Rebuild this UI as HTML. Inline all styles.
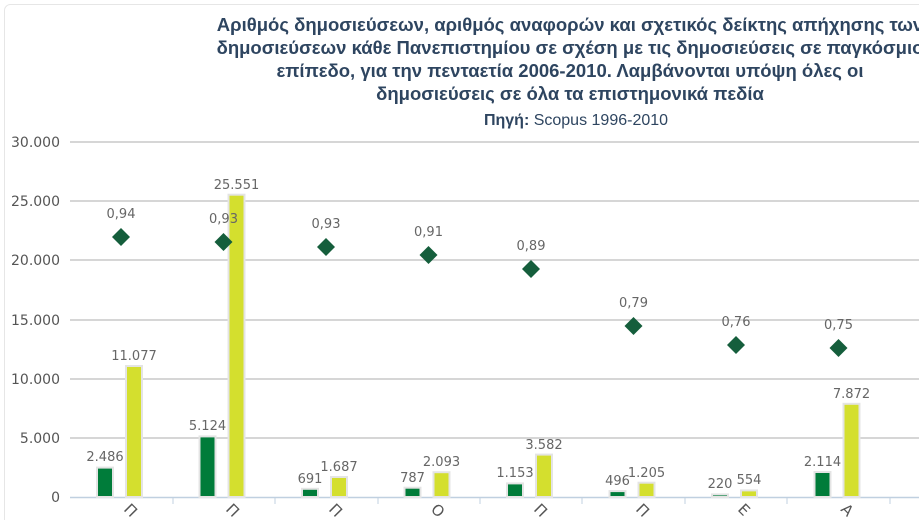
<!DOCTYPE html>
<html><head><meta charset="utf-8"><style>
body{margin:0;background:#fff;width:919px;height:520px;overflow:hidden;}
svg{display:block;}
.t{font-family:"Liberation Sans Narrow","Liberation Sans",sans-serif;font-weight:bold;font-size:18.5px;fill:#2e4560;}
.l{font-family:"DejaVu Sans","Liberation Sans",sans-serif;font-size:13px;fill:#666;}
.a{font-family:"DejaVu Sans","Liberation Sans",sans-serif;font-size:14px;fill:#555;}
</style></head><body>
<svg width="919" height="520" xmlns="http://www.w3.org/2000/svg">
<rect x="4.5" y="4.5" width="930" height="530" rx="6" fill="#fff" stroke="#e6e6e6"/>
<g text-anchor="middle">
<text class="t" x="570" y="31">Αριθμός δημοσιεύσεων, αριθμός αναφορών και σχετικός δείκτης απήχησης των</text>
<text class="t" x="570" y="54">δημοσιεύσεων κάθε Πανεπιστημίου σε σχέση με τις δημοσιεύσεις σε παγκόσμιο</text>
<text class="t" x="570" y="77">επίπεδο, για την πενταετία 2006-2010. Λαμβάνονται υπόψη όλες οι</text>
<text class="t" x="570" y="100">δημοσιεύσεις σε όλα τα επιστημονικά πεδία</text>
<text x="576" y="125" style="font-family:'Liberation Sans Narrow','Liberation Sans',sans-serif;font-size:16px;fill:#2e4560"><tspan font-weight="bold">Πηγή:</tspan> Scopus 1996-2010</text>
</g>
<g stroke="#c8c8c8" stroke-width="1.5">
<line x1="70" x2="919" y1="142" y2="142"/><line x1="70" x2="919" y1="201" y2="201"/>
<line x1="70" x2="919" y1="260" y2="260"/><line x1="70" x2="919" y1="320" y2="320"/>
<line x1="70" x2="919" y1="379" y2="379"/><line x1="70" x2="919" y1="438" y2="438"/>
</g>
<line x1="70" x2="919" y1="497.5" y2="497.5" stroke="#c0d0e0" stroke-width="1.5"/>
<g stroke="#c0d0e0"><line x1="173" x2="173" y1="497" y2="504"/><line x1="275" x2="275" y1="497" y2="504"/><line x1="378" x2="378" y1="497" y2="504"/><line x1="480" x2="480" y1="497" y2="504"/><line x1="582" x2="582" y1="497" y2="504"/><line x1="685" x2="685" y1="497" y2="504"/><line x1="787" x2="787" y1="497" y2="504"/><line x1="890" x2="890" y1="497" y2="504"/></g>
<g class="a" text-anchor="end">
<text x="60" y="147">30.000</text><text x="60" y="206">25.000</text><text x="60" y="265">20.000</text>
<text x="60" y="325">15.000</text><text x="60" y="384">10.000</text><text x="60" y="443">5.000</text><text x="60" y="502">0</text>
</g>
<g stroke="#e4e4e4" stroke-width="2">
<rect x="97" y="467.6" width="16" height="29.4" fill="#007c3a"/><rect x="126" y="366" width="16" height="131" fill="#d4df2e"/>
<rect x="199.5" y="436.4" width="16" height="60.6" fill="#007c3a"/><rect x="228.5" y="194.7" width="16" height="302.3" fill="#d4df2e"/>
<rect x="302" y="488.8" width="16" height="8.2" fill="#007c3a"/><rect x="331" y="477" width="16" height="20" fill="#d4df2e"/>
<rect x="404.5" y="487.7" width="16" height="9.3" fill="#007c3a"/><rect x="433.5" y="472.2" width="16" height="24.8" fill="#d4df2e"/>
<rect x="507" y="483.4" width="16" height="13.6" fill="#007c3a"/><rect x="536" y="454.6" width="16" height="42.4" fill="#d4df2e"/>
<rect x="609.5" y="491.1" width="16" height="5.9" fill="#007c3a"/><rect x="638.5" y="482.7" width="16" height="14.3" fill="#d4df2e"/>
<rect x="712" y="494.4" width="16" height="2.6" fill="#007c3a"/><rect x="741" y="490.4" width="16" height="6.6" fill="#d4df2e"/>
<rect x="814.5" y="472" width="16" height="25" fill="#007c3a"/><rect x="843.5" y="403.8" width="16" height="93.2" fill="#d4df2e"/>
</g>
<g class="l" text-anchor="middle">
<text x="105" y="461">2.486</text><text x="134" y="360">11.077</text>
<text x="207.5" y="430">5.124</text><text x="236.5" y="189">25.551</text>
<text x="310" y="483">691</text><text x="339" y="471">1.687</text>
<text x="412.5" y="482">787</text><text x="441.5" y="466">2.093</text>
<text x="515" y="477">1.153</text><text x="544" y="449">3.582</text>
<text x="617.5" y="485">496</text><text x="646.5" y="477">1.205</text>
<text x="720" y="488">220</text><text x="749" y="484">554</text>
<text x="822.5" y="466">2.114</text><text x="851.5" y="398">7.872</text>
</g>
<g fill="#155e3c">
<polygon points="121,228 130,237 121,246 112,237"/>
<polygon points="223.5,233 232.5,242 223.5,251 214.5,242"/>
<polygon points="326,238 335,247 326,256 317,247"/>
<polygon points="428.5,246 437.5,255 428.5,264 419.5,255"/>
<polygon points="531,260 540,269 531,278 522,269"/>
<polygon points="633.5,317 642.5,326 633.5,335 624.5,326"/>
<polygon points="736,336 745,345 736,354 727,345"/>
<polygon points="838.5,339 847.5,348 838.5,357 829.5,348"/>
</g>
<g class="l" text-anchor="middle">
<text x="121" y="218">0,94</text><text x="223.5" y="223">0,93</text><text x="326" y="228">0,93</text>
<text x="428.5" y="236">0,91</text><text x="531" y="250">0,89</text><text x="633.5" y="307">0,79</text>
<text x="736" y="326">0,76</text><text x="838.5" y="329">0,75</text>
</g>
<g class="a" style="font-size:15px">
<text transform="translate(123,510) rotate(45)">Π</text>
<text transform="translate(225,510) rotate(45)">Π</text>
<text transform="translate(328,510) rotate(45)">Π</text>
<text transform="translate(430,510) rotate(45)">Ο</text>
<text transform="translate(533,510) rotate(45)">Π</text>
<text transform="translate(635,510) rotate(45)">Π</text>
<text transform="translate(737,510) rotate(45)">Ε</text>
<text transform="translate(840,510) rotate(45)">Α</text>
</g>
</svg>
</body></html>
